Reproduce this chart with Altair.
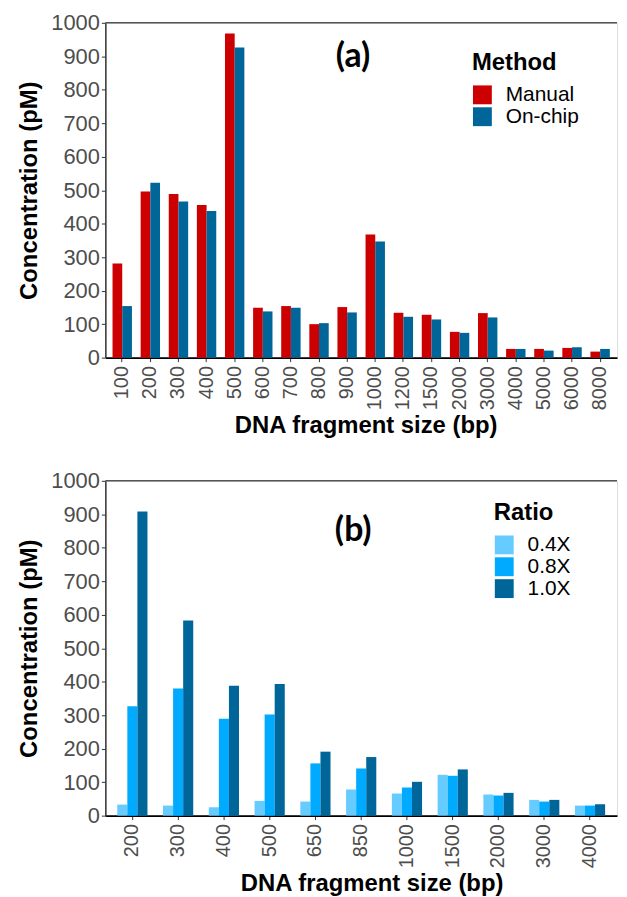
import altair as alt
import pandas as pd

# ---------------- data ----------------
sizes_a = ["100", "200", "300", "400", "500", "600", "700", "800", "900", "1000",
           "1200", "1500", "2000", "3000", "4000", "5000", "6000", "8000"]
manual = [281, 496, 489, 456, 968, 149, 154, 100, 151, 368, 134, 128, 77, 133, 26, 26, 29, 18]
onchip = [154, 522, 466, 438, 926, 138, 149, 103, 135, 347, 122, 114, 74, 120, 26, 21, 31, 26]
methods = ["Manual", "On-chip"]
method_colors = ["#CC0000", "#006699"]

sizes_b = ["200", "300", "400", "500", "650", "850", "1000", "1500", "2000", "3000", "4000"]
r04 = [33, 30, 25, 44, 42, 78, 66, 122, 63, 47, 30]
r08 = [327, 380, 289, 302, 156, 141, 84, 119, 60, 42, 30]
r10 = [908, 583, 388, 393, 191, 175, 101, 138, 68, 47, 34]
ratios = ["0.4X", "0.8X", "1.0X"]
ratio_colors = ["#66CCFF", "#00AAFF", "#006699"]

y_ticks = list(range(0, 1001, 100))

df_a = pd.DataFrame(
    [{"size": s, "group": "Manual", "value": v} for s, v in zip(sizes_a, manual)]
    + [{"size": s, "group": "On-chip", "value": v} for s, v in zip(sizes_a, onchip)]
)
df_b = pd.DataFrame(
    [{"size": s, "group": "0.4X", "value": v} for s, v in zip(sizes_b, r04)]
    + [{"size": s, "group": "0.8X", "value": v} for s, v in zip(sizes_b, r08)]
    + [{"size": s, "group": "1.0X", "value": v} for s, v in zip(sizes_b, r10)]
)

W = 515
H = 337
FONT = "Liberation Sans, Arial, sans-serif"


def panel(df, cats, domain, colors, legend_title, legend_x, legend_y,
          tag, tag_cat, tag_val, tag_dx, pin, pout, title_x):
    xscale = alt.Scale(paddingInner=pin, paddingOuter=pout)
    yscale = alt.Scale(domain=[0, 1000], nice=False)
    x_axis = alt.Axis(title="DNA fragment size (bp)", labelAngle=270,
                      labelFontSize=20, labelColor="#4D4D4D", labelFont=FONT,
                      labelPadding=4, tickSize=4, tickColor="#333333",
                      labelOverlap=False,
                      domainColor="#000000", domainWidth=2,
                      titleFont=FONT, titleFontSize=24, titleFontWeight="bold",
                      titleColor="#000000", titleBaseline="alphabetic",
                      titlePadding=23, titleX=title_x)
    y_axis = alt.Axis(title="Concentration (pM)", values=y_ticks, grid=False,
                      format="d", labelOverlap=False, tickCount=11,
                      labelFontSize=22, labelColor="#4D4D4D", labelFont=FONT,
                      labelPadding=2, tickSize=4, tickColor="#333333",
                      domainColor="#333333", domainWidth=1.5,
                      titleFont=FONT, titleFontSize=24, titleFontWeight="bold",
                      titleColor="#000000", titleBaseline="alphabetic",
                      titlePadding=14)
    bars = alt.Chart(df).mark_bar().encode(
        x=alt.X("size:N", sort=cats, scale=xscale, axis=x_axis),
        xOffset=alt.XOffset("group:N", sort=domain),
        y=alt.Y("value:Q", scale=yscale, axis=y_axis),
        color=alt.Color("group:N", sort=domain,
                        scale=alt.Scale(domain=domain, range=colors),
                        legend=alt.Legend(title=legend_title, orient="none",
                                          legendX=legend_x, legendY=legend_y,
                                          titleFont=FONT, titleFontSize=24,
                                          titleFontWeight="bold", titleColor="#000000",
                                          titlePadding=10,
                                          labelFont=FONT, labelFontSize=21,
                                          labelColor="#000000", labelOffset=13,
                                          symbolType="square", symbolSize=361,
                                          symbolStrokeWidth=0, symbolOpacity=1,
                                          rowPadding=0)),
    )
    top = alt.Chart(pd.DataFrame({"value": [1000]})).mark_rule(
        color="#555555", strokeWidth=1.5
    ).encode(y=alt.Y("value:Q", scale=yscale, axis=y_axis), x=alt.value(0), x2=alt.value(W))
    label = alt.Chart(pd.DataFrame({"size": [tag_cat], "value": [tag_val], "t": [tag]})).mark_text(
        font="Lato", fontSize=34, fontWeight="bold", color="#000000", dx=tag_dx,
        baseline="middle", align="center"
    ).encode(x=alt.X("size:N", sort=cats, scale=xscale, axis=x_axis),
             y=alt.Y("value:Q", scale=yscale, axis=y_axis), text="t:N")
    return alt.layer(bars, top, label).properties(width=W, height=H)


pa = panel(df_a, sizes_a, methods, method_colors, "Method", 369, 28,
           "(a)", "900", 898, 6, 0.31, 0.255, 262)
pb = panel(df_b, sizes_b, ratios, ratio_colors, "Ratio", 391, 20,
           "(b)", "850", 850, -8, 0.34, 0.26, 268)

chart = alt.vconcat(pa, pb, spacing=31).resolve_scale(
    x="independent", y="independent", color="independent", xOffset="independent"
).resolve_legend(color="independent").properties(
    padding={"left": 9, "top": 0, "right": 0, "bottom": 0}
).configure_view(stroke=None).configure(background="white")

chart.save("out.html", embed_options={"renderer": "svg", "actions": False})
